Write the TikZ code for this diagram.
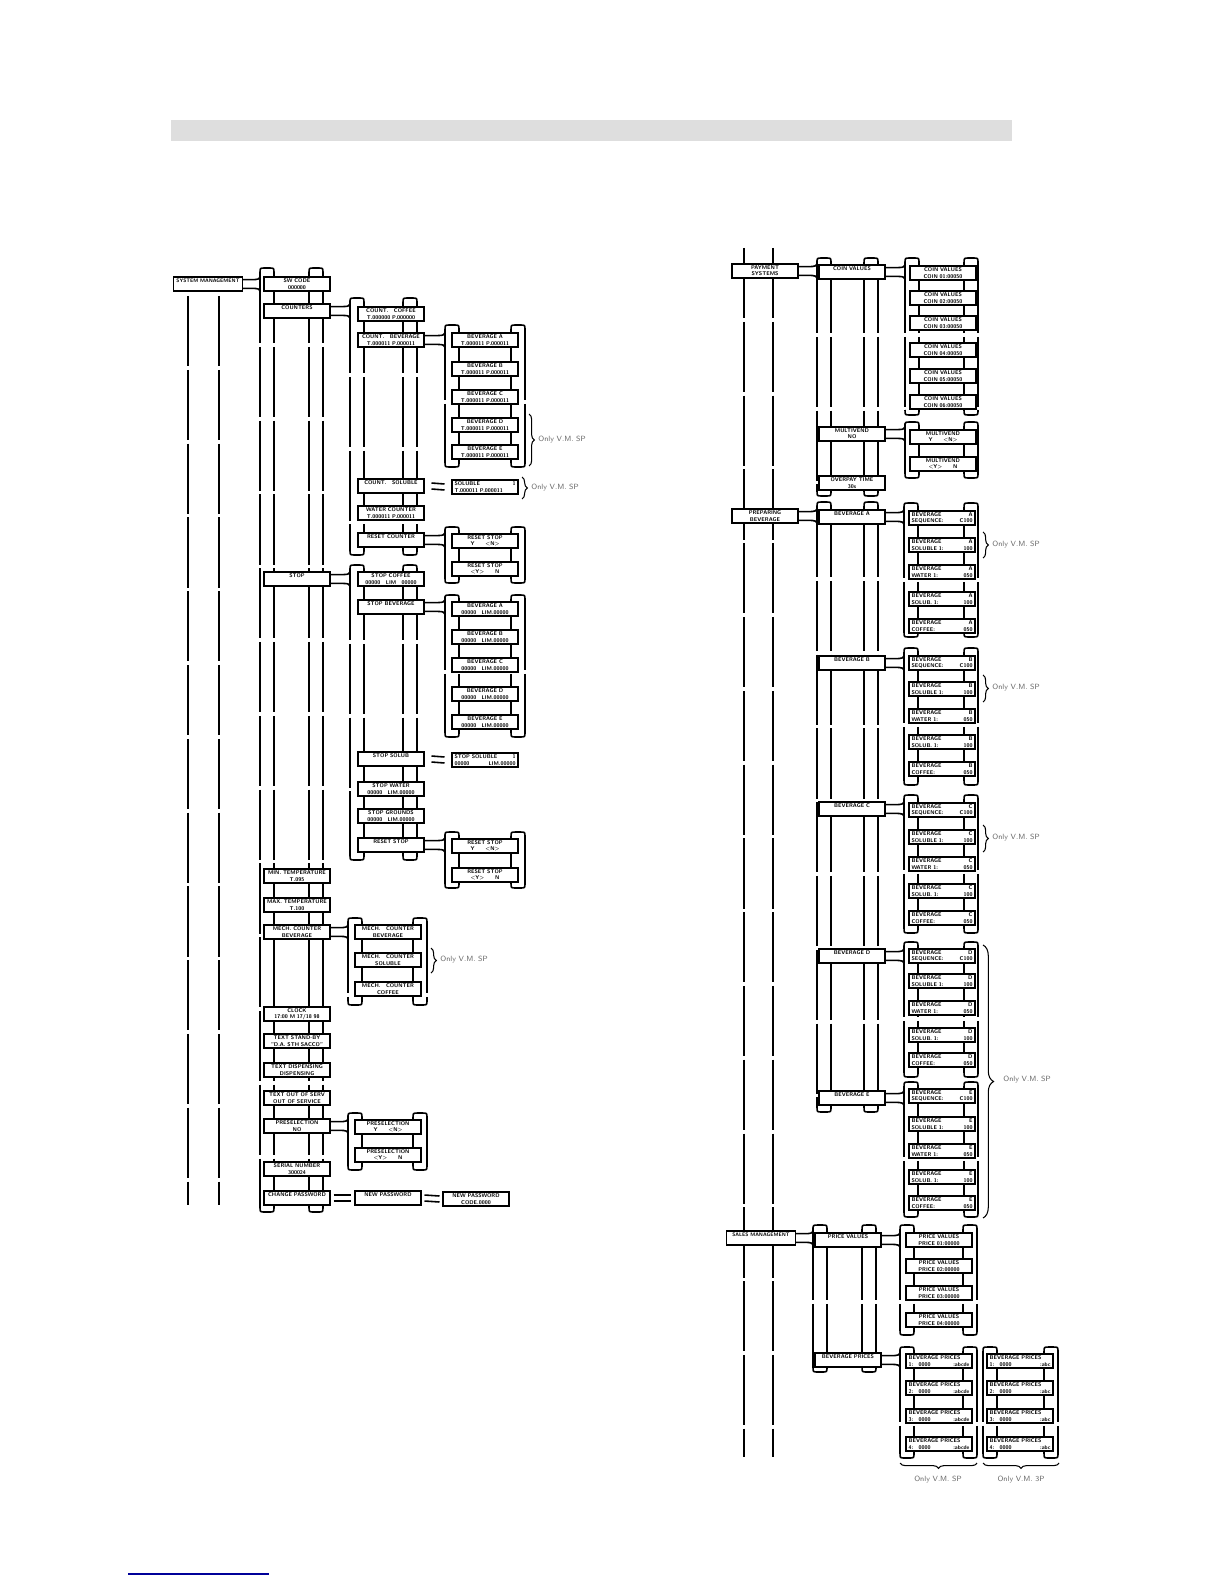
\documentclass[tikz,border=0pt]{standalone}
\usetikzlibrary{calc,decorations.pathreplacing}
\hyphenpenalty=10000
\exhyphenpenalty=10000

% frame of one menu level: x left, x right, y top, y bottom
\newcommand{\menuframe}[4]{%
  \draw[frm,dash pattern=on 40pt off 2pt] (#1,#3+5) -- (#1,#4-5) (#1+14,#3+5) -- (#1+14,#4-5)
    (#2-14,#3+5) -- (#2-14,#4-5) (#2,#3+5) -- (#2,#4-5);
  \draw[frm] (#1,#3+5) .. controls (#1,#3) .. (#1+5,#3) -- (#1+9,#3) .. controls (#1+14,#3) .. (#1+14,#3+5)
    (#2-14,#3+5) .. controls (#2-14,#3) .. (#2-9,#3) -- (#2-5,#3) .. controls (#2,#3) .. (#2,#3+5)
    (#1,#4-5) .. controls (#1,#4) .. (#1+5,#4) -- (#1+9,#4) .. controls (#1+14,#4) .. (#1+14,#4-5)
    (#2-14,#4-5) .. controls (#2-14,#4) .. (#2-9,#4) -- (#2-5,#4) .. controls (#2,#4) .. (#2,#4-5);}

% link from a menu box to the frame of its sub level
\newcommand{\menulink}[2]{%
  \draw[frm] let \p1=(#1.east), \p2=(#2,0) in
    (\x1,\y1+2.5pt) -- (\x1+4pt,\y1+2.5pt) .. controls (\x2,\y1+2.5pt) .. (\x2,\y1+6pt)
    (\x1,\y1-2.5pt) -- (\x1+4pt,\y1-2.5pt) .. controls (\x2,\y1-2.5pt) .. (\x2,\y1-6pt);}

\begin{document}
\begin{tikzpicture}[x=0.02cm, y=-0.02cm,
  frm/.style={line width=0.9pt},
  lcd/.style={draw, line width=0.6pt, fill=white, text width=1.22cm, inner xsep=0.05cm,
    inner ysep=0.4pt, minimum height=0.28cm, align=center,
    font=\fontsize{3.1}{3.6}\selectfont\sffamily\bfseries},
  lcdl/.style={lcd, align=left},
  mainlcd/.style={lcd, text width=1.34cm, inner xsep=0.02cm,
    font=\fontsize{2.9}{3.6}\selectfont\sffamily\bfseries},
  note/.style={font=\fontsize{4.3}{5}\selectfont\sffamily, text=black!60, anchor=west, inner sep=0},
  vbrace/.style={decorate, decoration={brace, amplitude=3pt}, line width=0.6pt}]
  \useasboundingbox (0,0) rectangle (1224,1584);

  % title bar and footer line
  \fill[black!13] (171,120) rectangle (1012,141);
  \draw[line width=1.1pt, blue!60!black] (128,1574) -- (269,1574);

  % main menu lines
  \draw[frm, dash pattern=on 40pt off 2pt] (188,296) -- (188,1205) (219,296) -- (219,1205);
  \draw[frm, dash pattern=on 40pt off 2pt] (744,248) -- (744,1457) (773,248) -- (773,1457);

  % frames, left half
  \menuframe{260}{323}{268}{1212}
  \menuframe{350}{417}{298}{555}
  \menuframe{350}{417}{565}{860}
  \menuframe{348}{427}{918}{1005}
  \menuframe{348}{427}{1113}{1170}
  \menuframe{445}{525}{325}{467}
  \menuframe{445}{525}{527}{583}
  \menuframe{445}{525}{595}{737}
  \menuframe{445}{525}{832}{888}
  % frames, right half
  \menuframe{817}{878}{258}{496}
  \menuframe{905}{978}{258}{415}
  \menuframe{905}{978}{422}{478}
  \menuframe{817}{878}{502}{1112}
  \menuframe{904}{978}{503}{637}
  \menuframe{904}{978}{648}{785}
  \menuframe{904}{978}{795}{933}
  \menuframe{904}{978}{942}{1077}
  \menuframe{904}{978}{1082}{1217}
  \menuframe{813}{876}{1225}{1372}
  \menuframe{900}{977}{1225}{1335}
  \menuframe{900}{977}{1347}{1458}
  \menuframe{983}{1058}{1347}{1458}

  % system management
  \node[mainlcd] (sysman) at (208,284) {SYSTEM MANAGEMENT\\\mbox{}};
  \node[lcd] (swcode) at (297,284) {SW CODE\\000000};
  \node[lcd] (counters) at (297,311) {COUNTERS\\\mbox{}};
  \node[lcd] (stop) at (297,579) {STOP\\\mbox{}};
  \node[lcd] (mintemp) at (297,876) {MIN. TEMPERATURE\\T.095};
  \node[lcd] (maxtemp) at (297,905) {MAX. TEMPERATURE\\T.100};
  \node[lcd] (mechcnt) at (297,932) {MECH. COUNTER\\BEVERAGE};
  \node[lcd] (clock) at (297,1014) {CLOCK\\17:00 M 17/18 98};
  \node[lcd] (standby) at (297,1041) {TEXT STAND-BY\\"D.A. STH SACCO"};
  \node[lcd] (dispens) at (297,1070) {TEXT DISPENSING\\DISPENSING};
  \node[lcd] (outserv) at (297,1098) {TEXT OUT OF SERV\\OUT OF SERVICE};
  \node[lcd] (presel) at (297,1126) {PRESELECTION\\NO};
  \node[lcd] (serial) at (297,1169) {SERIAL NUMBER\\300024};
  \node[lcd] (chpass) at (297,1198) {CHANGE PASSWORD\\\mbox{}};

  % counters and stop
  \node[lcd] (cntcof) at (391,314) {COUNT.\quad COFFEE\\T.000000 P.000000};
  \node[lcd] (cntbev) at (391,340) {COUNT.\quad BEVERAGE\\T.000011 P.000011};
  \node[lcd] (cntsol) at (391,486) {COUNT.\quad SOLUBLE\\\mbox{}};
  \node[lcd] (watcnt) at (391,513) {WATER COUNTER\\T.000011 P.000011};
  \node[lcd] (rescnt) at (391,540) {RESET COUNTER\\\mbox{}};
  \node[lcd] (stopcof) at (391,579) {STOP COFFEE\\00000\quad LIM\quad 00000};
  \node[lcd] (stopbev) at (391,607) {STOP BEVERAGE\\\mbox{}};
  \node[lcd] (stopsol) at (391,759) {STOP SOLUB\\\mbox{}};
  \node[lcd] (stopwat) at (391,789) {STOP WATER\\00000\quad LIM.00000};
  \node[lcd] (stopgrd) at (391,816) {STOP GROUNDS\\00000\quad LIM.00000};
  \node[lcd] (resstop) at (391,845) {RESET STOP\\\mbox{}};
  \node[lcd] (mechbev) at (388,932) {MECH.\quad COUNTER\\BEVERAGE};
  \node[lcd] (mechsol) at (388,960) {MECH.\quad COUNTER\\SOLUBLE};
  \node[lcd] (mechcof) at (388,989) {MECH.\quad COUNTER\\COFFEE};
  \node[lcd] (preY) at (388,1127) {PRESELECTION\\Y\hspace{2em}<N>};
  \node[lcd] (preN) at (388,1155) {PRESELECTION\\<Y>\hspace{2em}N};
  \node[lcd] (newpass) at (388,1198) {NEW PASSWORD\\\mbox{}};

  % third level, left half
  \node[lcd] (cbA) at (485,340) {BEVERAGE A\\T.000011 P.000011};
  \node[lcd] (cbB) at (485,369) {BEVERAGE B\\T.000011 P.000011};
  \node[lcd] (cbC) at (485,397) {BEVERAGE C\\T.000011 P.000011};
  \node[lcd] (cbD) at (485,425) {BEVERAGE D\\T.000011 P.000011};
  \node[lcd] (cbE) at (485,452) {BEVERAGE E\\T.000011 P.000011};
  \node[lcdl] (soluble) at (485,487) {SOLUBLE\hfill 1\\T.000011 P.000011};
  \node[lcd] (rcY) at (485,541) {RESET STOP\\Y\hspace{2em}<N>};
  \node[lcd] (rcN) at (485,569) {RESET STOP\\<Y>\hspace{2em}N};
  \node[lcd] (sbA) at (485,609) {BEVERAGE A\\00000\quad LIM.00000};
  \node[lcd] (sbB) at (485,637) {BEVERAGE B\\00000\quad LIM.00000};
  \node[lcd] (sbC) at (485,665) {BEVERAGE C\\00000\quad LIM.00000};
  \node[lcd] (sbD) at (485,694) {BEVERAGE D\\00000\quad LIM.00000};
  \node[lcd] (sbE) at (485,722) {BEVERAGE E\\00000\quad LIM.00000};
  \node[lcdl] (stopsolb) at (485,760) {STOP SOLUBLE\hfill 1\\00000\hfill LIM.00000};
  \node[lcd] (rsY) at (485,846) {RESET STOP\\Y\hspace{2em}<N>};
  \node[lcd] (rsN) at (485,875) {RESET STOP\\<Y>\hspace{2em}N};
  \node[lcd] (newcode) at (476,1199) {NEW PASSWORD\\CODE.0000};

  % payment systems
  \node[lcd] (payment) at (765,271) {PAYMENT\\SYSTEMS};
  \node[lcd] (coinval) at (852,272) {COIN VALUES\\\mbox{}};
  \node[lcd] (multiv) at (852,434) {MULTIVEND\\NO};
  \node[lcd] (overpay) at (852,483) {OVERPAY TIME\\30s};
  \node[lcd] (coin1) at (943,273) {COIN VALUES\\COIN 01:00050};
  \node[lcd] (coin2) at (943,298) {COIN VALUES\\COIN 02:00050};
  \node[lcd] (coin3) at (943,323) {COIN VALUES\\COIN 03:00050};
  \node[lcd] (coin4) at (943,350) {COIN VALUES\\COIN 04:00050};
  \node[lcd] (coin5) at (943,376) {COIN VALUES\\COIN 05:00050};
  \node[lcd] (coin6) at (943,402) {COIN VALUES\\COIN 06:00050};
  \node[lcd] (mvY) at (943,437) {MULTIVEND\\Y\hspace{2em}<N>};
  \node[lcd] (mvN) at (943,464) {MULTIVEND\\<Y>\hspace{2em}N};

  % preparing beverage
  \node[lcd] (prep) at (765,516) {PREPARING\\BEVERAGE};
  \node[lcd] (pbA) at (852,517) {BEVERAGE A\\\mbox{}};
  \node[lcd] (pbB) at (852,663) {BEVERAGE B\\\mbox{}};
  \node[lcd] (pbC) at (852,809) {BEVERAGE C\\\mbox{}};
  \node[lcd] (pbD) at (852,956) {BEVERAGE D\\\mbox{}};
  \node[lcd] (pbE) at (852,1098) {BEVERAGE E\\\mbox{}};
  \node[lcdl] (pA1) at (942,518) {BEVERAGE\hfill A\\SEQUENCE:\hfill C100};
  \node[lcdl] (pA2) at (942,545) {BEVERAGE\hfill A\\SOLUBLE 1:\hfill 100};
  \node[lcdl] (pA3) at (942,572) {BEVERAGE\hfill A\\WATER 1:\hfill 050};
  \node[lcdl] (pA4) at (942,599) {BEVERAGE\hfill A\\SOLUB. 1:\hfill 100};
  \node[lcdl] (pA5) at (942,626) {BEVERAGE\hfill A\\COFFEE:\hfill 050};
  \node[lcdl] (pB1) at (942,663) {BEVERAGE\hfill B\\SEQUENCE:\hfill C100};
  \node[lcdl] (pB2) at (942,689) {BEVERAGE\hfill B\\SOLUBLE 1:\hfill 100};
  \node[lcdl] (pB3) at (942,716) {BEVERAGE\hfill B\\WATER 1:\hfill 050};
  \node[lcdl] (pB4) at (942,742) {BEVERAGE\hfill B\\SOLUB. 1:\hfill 100};
  \node[lcdl] (pB5) at (942,769) {BEVERAGE\hfill B\\COFFEE:\hfill 050};
  \node[lcdl] (pC1) at (942,810) {BEVERAGE\hfill C\\SEQUENCE:\hfill C100};
  \node[lcdl] (pC2) at (942,837) {BEVERAGE\hfill C\\SOLUBLE 1:\hfill 100};
  \node[lcdl] (pC3) at (942,864) {BEVERAGE\hfill C\\WATER 1:\hfill 050};
  \node[lcdl] (pC4) at (942,891) {BEVERAGE\hfill C\\SOLUB. 1:\hfill 100};
  \node[lcdl] (pC5) at (942,918) {BEVERAGE\hfill C\\COFFEE:\hfill 050};
  \node[lcdl] (pD1) at (942,956) {BEVERAGE\hfill D\\SEQUENCE:\hfill C100};
  \node[lcdl] (pD2) at (942,981) {BEVERAGE\hfill D\\SOLUBLE 1:\hfill 100};
  \node[lcdl] (pD3) at (942,1008) {BEVERAGE\hfill D\\WATER 1:\hfill 050};
  \node[lcdl] (pD4) at (942,1035) {BEVERAGE\hfill D\\SOLUB. 1:\hfill 100};
  \node[lcdl] (pD5) at (942,1060) {BEVERAGE\hfill D\\COFFEE:\hfill 050};
  \node[lcdl] (pE1) at (942,1096) {BEVERAGE\hfill E\\SEQUENCE:\hfill C100};
  \node[lcdl] (pE2) at (942,1124) {BEVERAGE\hfill E\\SOLUBLE 1:\hfill 100};
  \node[lcdl] (pE3) at (942,1151) {BEVERAGE\hfill E\\WATER 1:\hfill 050};
  \node[lcdl] (pE4) at (942,1177) {BEVERAGE\hfill E\\SOLUB. 1:\hfill 100};
  \node[lcdl] (pE5) at (942,1203) {BEVERAGE\hfill E\\COFFEE:\hfill 050};

  % sales management
  \node[mainlcd] (sales) at (761,1238) {SALES MANAGEMENT\\\mbox{}};
  \node[lcd] (pricev) at (848,1240) {PRICE VALUES\\\mbox{}};
  \node[lcd] (bevpr) at (848,1360) {BEVERAGE PRICES\\\mbox{}};
  \node[lcd] (pv1) at (939,1240) {PRICE VALUES\\PRICE 01:00000};
  \node[lcd] (pv2) at (939,1266) {PRICE VALUES\\PRICE 02:00000};
  \node[lcd] (pv3) at (939,1293) {PRICE VALUES\\PRICE 03:00000};
  \node[lcd] (pv4) at (939,1320) {PRICE VALUES\\PRICE 04:00000};
  \node[lcdl] (bpa1) at (939,1361) {BEVERAGE PRICES\\1:\quad 0000\hfill :abcde};
  \node[lcdl] (bpa2) at (939,1388) {BEVERAGE PRICES\\2:\quad 0000\hfill :abcde};
  \node[lcdl] (bpa3) at (939,1416) {BEVERAGE PRICES\\3:\quad 0000\hfill :abcde};
  \node[lcdl] (bpa4) at (939,1444) {BEVERAGE PRICES\\4:\quad 0000\hfill :abcde};
  \node[lcdl] (bpb1) at (1020,1361) {BEVERAGE PRICES\\1:\quad 0000\hfill :abc};
  \node[lcdl] (bpb2) at (1020,1388) {BEVERAGE PRICES\\2:\quad 0000\hfill :abc};
  \node[lcdl] (bpb3) at (1020,1416) {BEVERAGE PRICES\\3:\quad 0000\hfill :abc};
  \node[lcdl] (bpb4) at (1020,1444) {BEVERAGE PRICES\\4:\quad 0000\hfill :abc};

  % links into the sub levels
  \menulink{sysman}{260}
  \menulink{counters}{350}
  \menulink{stop}{350}
  \menulink{mechcnt}{348}
  \menulink{presel}{348}
  \menulink{cntbev}{445}
  \menulink{rescnt}{445}
  \menulink{stopbev}{445}
  \menulink{resstop}{445}
  \menulink{payment}{817}
  \menulink{coinval}{905}
  \menulink{multiv}{905}
  \menulink{prep}{817}
  \menulink{pbA}{904}
  \menulink{pbB}{904}
  \menulink{pbC}{904}
  \menulink{pbD}{904}
  \menulink{pbE}{904}
  \menulink{sales}{813}
  \menulink{pricev}{900}
  \menulink{bevpr}{900}

  % single screens
  \draw[frm] ([shift={(7,-3)}]cntsol.east) -- ([shift={(-7,-3)}]soluble.west)
    ([shift={(7,3)}]cntsol.east) -- ([shift={(-7,3)}]soluble.west);
  \draw[frm] ([shift={(7,-3)}]stopsol.east) -- ([shift={(-7,-3)}]stopsolb.west)
    ([shift={(7,3)}]stopsol.east) -- ([shift={(-7,3)}]stopsolb.west);
  \draw[frm] ([shift={(3,-3)}]chpass.east) -- ([shift={(-3,-3)}]newpass.west)
    ([shift={(3,3)}]chpass.east) -- ([shift={(-3,3)}]newpass.west);
  \draw[frm] ([shift={(3,-3)}]newpass.east) -- ([shift={(-3,-3)}]newcode.west)
    ([shift={(3,3)}]newpass.east) -- ([shift={(-3,3)}]newcode.west);

  % only V.M. SP
  \draw[vbrace] (529,414) -- (529,466);
  \node[note] (onlyD) at (538,440) {Only V.M. SP};
  \draw[vbrace] (522,477) -- (522,499);
  \node[note] (onlysol) at (531,488) {Only V.M. SP};
  \draw[vbrace] (431,948) -- (431,973);
  \node[note] (onlymech) at (440,960) {Only V.M. SP};
  \draw[vbrace] (983,532) -- (983,558);
  \node[note] (onlyA) at (992,545) {Only V.M. SP};
  \draw[vbrace] (983,675) -- (983,702);
  \node[note] (onlyB) at (992,688) {Only V.M. SP};
  \draw[vbrace] (983,825) -- (983,852);
  \node[note] (onlyC) at (992,838) {Only V.M. SP};
  \draw[vbrace, decoration={brace, amplitude=6pt}] (983,945) -- (983,1218);
  \node[note] (onlyDE) at (1003,1080) {Only V.M. SP};
  \draw[vbrace] (977,1463) -- (900,1463);
  \node[note, anchor=north] (onlyp1) at (938,1476) {Only V.M. SP};
  \draw[vbrace] (1059,1463) -- (983,1463);
  \node[note, anchor=north] (onlyp2) at (1021,1476) {Only V.M. 3P};
\end{tikzpicture}
\end{document}
